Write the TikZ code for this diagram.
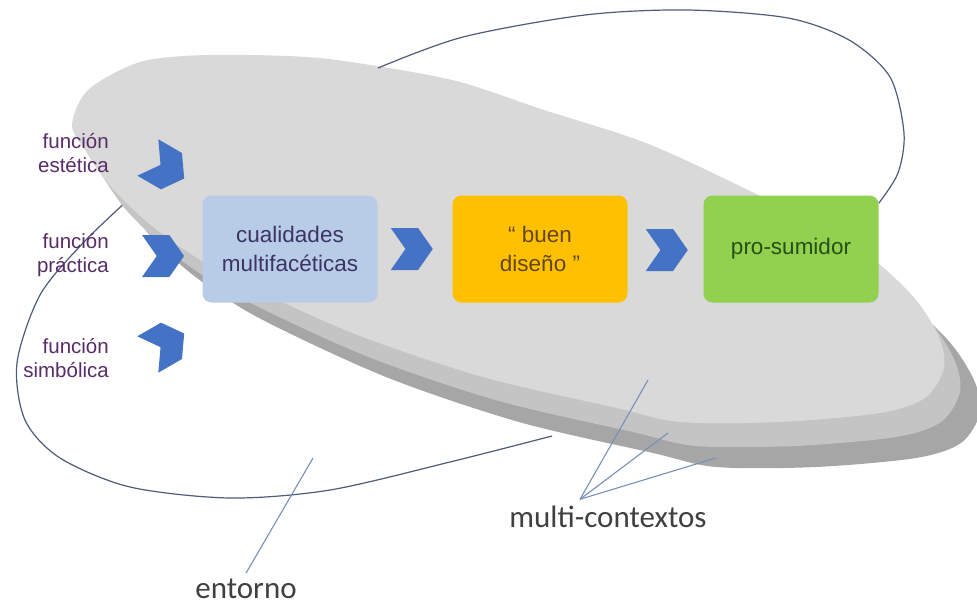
\documentclass[tikz,border=0pt]{standalone}
\usepackage{fontspec}
\setmainfont{Liberation Sans}
\newfontfamily\calib{Carlito}
\usetikzlibrary{shapes.symbols}

\definecolor{chevblue}{RGB}{68,114,196}
\definecolor{qualblue}{RGB}{184,204,232}
\definecolor{designorange}{RGB}{255,192,0}
\definecolor{prosgreen}{RGB}{146,208,80}
\definecolor{disctop}{RGB}{217,217,217}
\definecolor{discmid}{RGB}{196,196,196}
\definecolor{discdark}{RGB}{166,166,166}
\definecolor{loopgray}{RGB}{78,92,120}
\definecolor{pointblue}{RGB}{120,144,184}
\definecolor{funcpurple}{RGB}{88,44,104}

\tikzset{
  chev/.style={shape=signal, signal to=east, signal from=west,
    signal pointer angle=110, fill=chevblue, minimum width=42pt,
    minimum height=42pt, inner sep=0pt},
  stage/.style={rounded corners=9pt, minimum width=175pt, minimum height=107pt,
    align=center, font=\fontsize{22.5}{29}\selectfont},
  func/.style={anchor=east, align=right, text=funcpurple, inner sep=0pt,
    font=\fontsize{20.5}{23.5}\selectfont},
  tag/.style={anchor=base, inner sep=1pt, text=black!75,
    font=\calib\fontsize{31}{36}\selectfont},
  pointer/.style={draw=pointblue, line width=1.1pt},
  ring/.style={draw=loopgray, line width=1.2pt},
}

\begin{document}
\begin{tikzpicture}[x=1pt, y=-1pt]
    \useasboundingbox (0,0) rectangle (977,607);

    % lower half of the entorno ring, behind the disc
    \coordinate (ringB) at (128,200); \coordinate (ringC) at (552,436);
    \draw[ring] plot[smooth] coordinates {(ringB) (83,243) (40,295) (17,363)
        (25,420) (60,458) (130,487) (230,498) (330,490) (450,462) (ringC)};

    % disc: dark rim, mid rim, top face
    \foreach \dx/\dy/\col in {36/45/discdark, 16/24/discmid, 0/0/disctop}
        \fill[\col, shift={(\dx,\dy)}] plot[smooth cycle] coordinates {
            (72,125) (88,90) (140,62) (207,55) (307,57) (383,67) (460,82)
            (544,110) (646,143) (748,190) (850,242) (910,293) (938,335)
            (944,368) (925,398) (880,413) (780,422) (680,422) (617,408)
            (483,377) (350,332) (223,273) (157,230) (112,188) (85,150)};

    % process row
    \node[stage, fill=qualblue, text={rgb,255:red,60;green,52;blue,100}] (quality) at (290,249)
        {cualidades\\multifacéticas};
    \node[chev, anchor=east] (arrA) at (433,249) {};
    \node[stage, fill=designorange, text={rgb,255:red,100;green,70;blue,10}] (design) at (540,249)
        {“ buen\\diseño ”};
    \node[chev, anchor=east] (arrB) at (688,250) {};
    \node[stage, fill=prosgreen, text={rgb,255:red,40;green,80;blue,20}] (prosumer) at (791,249)
        {pro-sumidor};

    % three functions
    \node[chev, rotate=-30] (fEst) at (166,168) {};
    \node[chev] (fPra) at (163,256) {};
    \node[chev, rotate=30] (fSim) at (166,344) {};
    \node[func] (lEst) at (109,153) {función\\estética};
    \node[func] (lPra) at (109,255) {función\\práctica};
    \node[func] (lSim) at (109,358) {función\\simbólica};

    % upper half of the entorno ring
    \coordinate (ringA) at (378,68);
    \coordinate (ringD) at ([yshift=-8pt]prosumer.north east);
    \draw[ring] plot[smooth] coordinates {(ringA) (463,37) (585,15) (687,10)
        (788,18) (849,40) (890,77) (904,133) (898,173) (ringD)};

    % labels
    \node[tag] (ctx) at (608,527) {multi-contextos};
    \node[tag] (env) at (246,598) {entorno};
    \coordinate (ctxHub) at ([xshift=-28pt,yshift=5pt]ctx.north);
    \coordinate (ctx1) at (648,380); \coordinate (ctx2) at (668,433);
    \coordinate (ctx3) at (716,458); \coordinate (envPt) at (313,458);
    \foreach \p in {ctx1,ctx2,ctx3} \draw[pointer] (ctxHub) -- (\p);
    \draw[pointer] ([yshift=4pt]env.north) -- (envPt);
\end{tikzpicture}
\end{document}
